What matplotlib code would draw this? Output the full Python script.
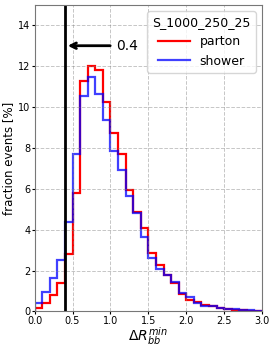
import numpy as np
import matplotlib
matplotlib.use("Agg")
import matplotlib.pyplot as plt

# Bordi dei bin (larghezza 0.1 tra 0 e 3)
edges = np.round(np.arange(31) * 0.1, 1)

# Frazione di eventi [%]
parton = [0.15, 0.41, 0.79, 1.40, 2.82, 5.80, 11.27, 12.00, 11.82, 10.25,
          8.71, 7.71, 5.92, 4.88, 4.10, 2.87, 2.26, 1.80, 1.39, 0.87,
          0.57, 0.45, 0.33, 0.26, 0.15, 0.10, 0.09, 0.05, 0.04, 0.03]
shower = [0.41, 0.95, 1.62, 2.52, 4.37, 7.70, 10.56, 11.48, 10.66, 9.35,
          7.83, 6.93, 5.63, 4.80, 3.65, 2.62, 2.06, 1.77, 1.44, 0.90,
          0.70, 0.41, 0.28, 0.26, 0.18, 0.12, 0.11, 0.06, 0.05, 0.04]

cut = 0.4

fig = plt.figure(figsize=(2.75, 3.46), dpi=100)
ax = fig.add_axes([0.126, 0.100, 0.827, 0.886])

ax.stairs(parton, edges, color="red", lw=1.6, label="parton")
ax.stairs(shower, edges, color="blue", lw=1.6, alpha=0.75, label="shower")

# Linea del taglio
ax.axvline(cut, color="black", lw=2)
ax.annotate("0.4", xy=(cut, 13), xytext=(1.07, 13), fontsize=10, va="center",
            arrowprops=dict(arrowstyle="->", lw=2, color="black"))

ax.set_xlim(0, 3)
ax.set_ylim(0, 15)
ax.set_xticks(np.arange(0, 3.01, 0.5))
ax.set_yticks(np.arange(0, 15, 2))
ax.tick_params(labelsize=7, length=2, pad=1)
for s in ax.spines.values():
    s.set_color("#777777")
ax.grid(True, ls="--", color="gray", alpha=0.45, lw=0.7)
ax.set_xlabel(r"$\Delta R_{bb}^{min}$", fontsize=10, labelpad=0)
ax.set_ylabel("fraction events [%]", fontsize=8.5, labelpad=2)
ax.legend(title="S_1000_250_25", loc="upper right", fontsize=9, title_fontsize=9,
          handlelength=2.5, borderaxespad=0.5)

fig.savefig("out.png", dpi=100)
